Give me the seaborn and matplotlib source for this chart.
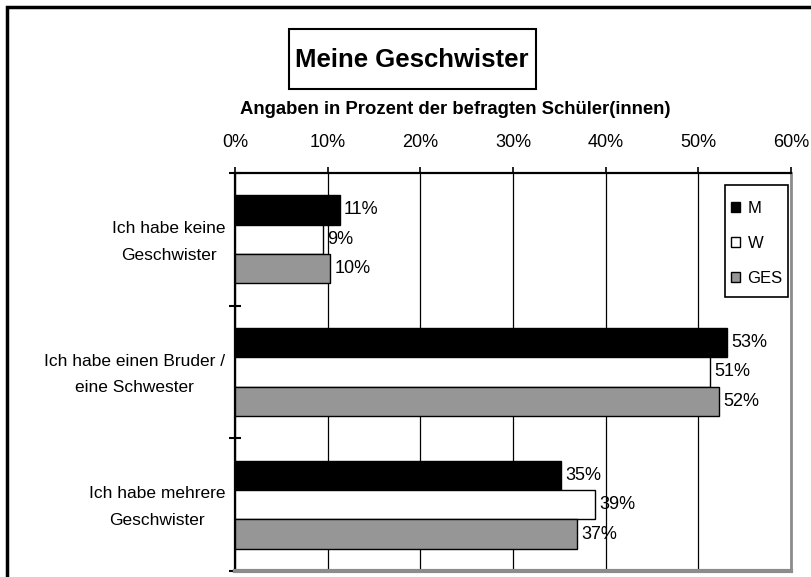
import pandas as pd
import seaborn as sns
import matplotlib.pyplot as plt
from matplotlib.patches import Rectangle
from matplotlib.transforms import ScaledTranslation

# Daten
kategorien = ["Ich habe keine\nGeschwister",
              "Ich habe einen Bruder /\neine Schwester",
              "Ich habe mehrere\nGeschwister"]
gruppen = ["M", "W", "GES"]
werte_m = [11.3, 53.1, 35.2]
werte_w = [9.5, 51.3, 38.9]
werte_ges = [10.3, 52.2, 36.9]
labels_m = ["11%", "53%", "35%"]
labels_w = ["9%", "51%", "39%"]
labels_ges = ["10%", "52%", "37%"]
x_ticks = [0, 10, 20, 30, 40, 50, 60]

sns.set_theme(style="white", rc={'text.color': 'black', 'xtick.color': 'black',
                                 'ytick.color': 'black', 'axes.labelcolor': 'black'})
plt.rcParams['font.family'] = ['Liberation Sans', 'DejaVu Sans']

df = pd.DataFrame({
    'kategorie': kategorien * 3,
    'gruppe': [g for g in gruppen for _ in kategorien],
    'wert': werte_m + werte_w + werte_ges,
})

fig = plt.figure(figsize=(8.12, 5.77), dpi=100)
ax = fig.add_axes([235 / 812, 1 - 571 / 577, 556 / 812, 398 / 577])

sns.barplot(data=df, y='kategorie', x='wert', hue='gruppe', orient='h',
            palette=['black', 'white', '#969696'], edgecolor='black',
            linewidth=1, width=0.665, errorbar=None, ax=ax, zorder=3)

# Werte an die Balken
for cont, labs in zip(ax.containers, [labels_m, labels_w, labels_ges]):
    ax.bar_label(cont, labels=labs, padding=3, fontsize=13, color='black')

# Achsen
ax.set_xlim(0, 60)
ax.set_ylim(2.5, -0.5)
ax.set_xticks(x_ticks)
ax.set_xticklabels([f"{t}%" for t in x_ticks], fontsize=13)
ax.xaxis.tick_top()
ax.tick_params(axis='x', which='major', direction='out', length=4, width=1.2,
               color='black', pad=12, top=True, bottom=False)
ax.set_xlabel("")
ax.set_ylabel("")

ax.set_yticks([0, 1, 2])
ax.set_yticklabels(kategorien, fontsize=12.5, ha='right', multialignment='center',
                   linespacing=2.0)
ax.tick_params(axis='y', which='major', length=0, pad=7)
# Kategorietexte etwas nach oben schieben
shift = ScaledTranslation(0, 0.05, fig.dpi_scale_trans)
for lab in ax.get_yticklabels():
    lab.set_transform(lab.get_transform() + shift)
ax.set_yticks([-0.5, 0.5, 1.5, 2.5], minor=True)
ax.tick_params(axis='y', which='minor', direction='inout', length=9, width=1.5,
               color='black', left=True)

ax.grid(axis='x', color='black', linewidth=0.9)
ax.grid(axis='y', visible=False)
ax.set_axisbelow(True)

ax.spines['top'].set_color('black')
ax.spines['top'].set_linewidth(1.6)
ax.spines['left'].set_color('black')
ax.spines['left'].set_linewidth(1.6)
ax.spines['right'].set_color('#8c8c8c')
ax.spines['right'].set_linewidth(2)
ax.spines['bottom'].set_color('#8c8c8c')
ax.spines['bottom'].set_linewidth(3)

# Legende (Rahmen separat gezeichnet)
leg = ax.legend(title=None, loc='upper left', bbox_to_anchor=(0.892, 0.929),
                borderaxespad=0, borderpad=0, fontsize=12, handlelength=0.55,
                handleheight=0.55, handletextpad=0.45, labelspacing=1.2,
                frameon=False)
ax.add_patch(Rectangle((0.8813, 0.6884), 0.1133, 0.2814, transform=ax.transAxes,
                       fill=True, facecolor='white', edgecolor='black',
                       linewidth=1.2, zorder=4))
leg.set_zorder(5)

# Titel mit Kasten
fig.text(412 / 812, 1 - 60 / 577, "Meine Geschwister", fontsize=18.5,
         fontweight='bold', ha='center', va='center')
fig.patches.append(Rectangle((289 / 812, 1 - 89 / 577), 247 / 812, 60 / 577,
                             transform=fig.transFigure, fill=False,
                             edgecolor='black', linewidth=1.5))
fig.text(455 / 812, 1 - 110 / 577, "Angaben in Prozent der befragten Schüler(innen)",
         fontsize=13.3, fontweight='bold', ha='center', va='center')

# Rahmen um die ganze Grafik
fig.patches.append(Rectangle((7 / 812, -0.1), 1.2, 1.1 - 7 / 577,
                             transform=fig.transFigure, fill=False,
                             edgecolor='black', linewidth=2.5))

plt.savefig("out.png", dpi=100)
plt.close()
